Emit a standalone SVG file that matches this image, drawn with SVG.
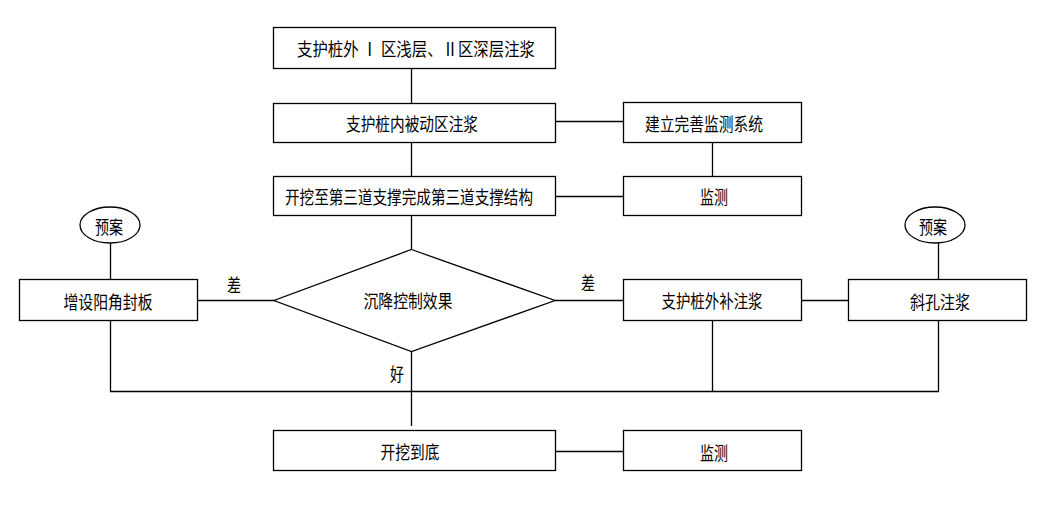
<svg xmlns="http://www.w3.org/2000/svg" width="1042" height="506" viewBox="0 0 1042 506">
<style>
.box{fill:#fff;stroke:#000;stroke-width:1.3}
.ln{fill:none;stroke:#000;stroke-width:1.3}
text{font-family:"Noto Sans CJK SC","Liberation Serif",serif;font-size:18px;fill:#000;text-anchor:middle;dominant-baseline:central}
</style>
<rect width="1042" height="506" fill="#fff"/>
<g id="connectors">
<path class="ln" d="M411.5 68V103M411.5 142V176M411.5 215V249M411.5 351V426"/>
<path class="ln" d="M555 121.5H623M555 196.5H623M555 451.5H623"/>
<path class="ln" d="M712.5 142V176"/>
<path class="ln" d="M198 300.5H274M555 300.5H623M801 300.5H848"/>
<path class="ln" d="M110.5 243V279M938.5 243V279"/>
<path class="ln" d="M110.5 320V391.5H938.5V320M712.5 320V391.5"/>
<text x="234" y="284" textLength="14" lengthAdjust="spacingAndGlyphs">差</text>
<text x="588" y="282" textLength="14" lengthAdjust="spacingAndGlyphs">差</text>
<text x="397" y="373" textLength="14" lengthAdjust="spacingAndGlyphs">好</text>
</g>
<g id="n1"><rect class="box" x="273.5" y="27.5" width="282" height="41"/><text x="416" y="48" textLength="238" lengthAdjust="spacingAndGlyphs">支护桩外 Ⅰ 区浅层、Ⅱ区深层注浆</text></g>
<g id="n2"><rect class="box" x="273.5" y="103.5" width="282" height="39"/><text x="412" y="123" textLength="132" lengthAdjust="spacingAndGlyphs">支护桩内被动区注浆</text></g>
<g id="n3"><rect class="box" x="273.5" y="176.5" width="282" height="39"/><text x="409" y="196" textLength="248" lengthAdjust="spacingAndGlyphs">开挖至第三道支撑完成第三道支撑结构</text></g>
<g id="n4"><rect class="box" x="623.5" y="102.5" width="178" height="40"/><text x="704" y="123" textLength="118" lengthAdjust="spacingAndGlyphs">建立完善监测系统</text></g>
<g id="n5"><rect class="box" x="623.5" y="176.5" width="178" height="39"/><text x="714" y="196" textLength="28" lengthAdjust="spacingAndGlyphs">监测</text></g>
<g id="n6"><polygon class="box" points="411.5,249.5 555,300.5 411.5,351.5 274,300.5"/><text x="408" y="300" textLength="89" lengthAdjust="spacingAndGlyphs">沉降控制效果</text></g>
<g id="n7"><rect class="box" x="19.5" y="279.5" width="178" height="41"/><text x="108" y="301" textLength="89" lengthAdjust="spacingAndGlyphs">增设阳角封板</text></g>
<g id="n8"><ellipse class="box" cx="110" cy="225" rx="30" ry="18"/><text x="109" y="226" textLength="28" lengthAdjust="spacingAndGlyphs">预案</text></g>
<g id="n9"><rect class="box" x="623.5" y="279.5" width="178" height="41"/><text x="712" y="300" textLength="101" lengthAdjust="spacingAndGlyphs">支护桩外补注浆</text></g>
<g id="n10"><rect class="box" x="848.5" y="279.5" width="178" height="41"/><text x="940" y="301" textLength="60" lengthAdjust="spacingAndGlyphs">斜孔注浆</text></g>
<g id="n11"><ellipse class="box" cx="935" cy="225" rx="30" ry="18"/><text x="933" y="226" textLength="28" lengthAdjust="spacingAndGlyphs">预案</text></g>
<g id="n12"><rect class="box" x="273.5" y="430.5" width="282" height="40"/><text x="410" y="451" textLength="59" lengthAdjust="spacingAndGlyphs">开挖到底</text></g>
<g id="n13"><rect class="box" x="623.5" y="430.5" width="178" height="40"/><text x="714" y="452" textLength="28" lengthAdjust="spacingAndGlyphs">监测</text></g>
</svg>
